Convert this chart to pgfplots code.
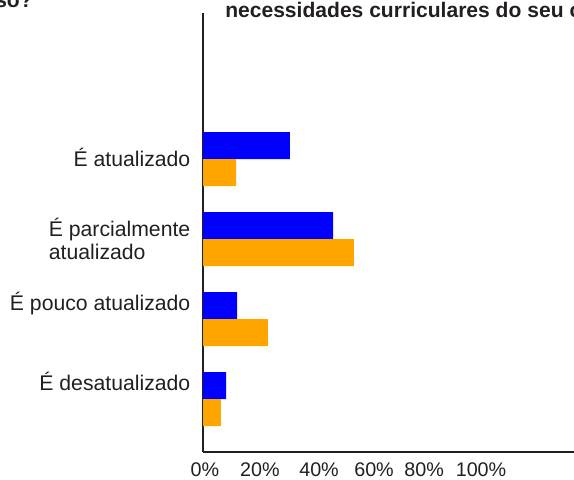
\documentclass[border=0pt]{standalone}
\usepackage{pgfplots}
\pgfplotsset{compat=1.18}
\usepackage{fontspec}
\setmainfont{Liberation Sans}
\definecolor{barblue}{HTML}{0000FF}
\definecolor{barorange}{HTML}{FFA500}
\definecolor{ink}{HTML}{231F20}
\begin{document}
\begin{tikzpicture}
\useasboundingbox (0,0) rectangle (430.5pt,359.25pt);
\clip (0,0) rectangle (430.5pt,359.25pt);
\begin{axis}[
  at={(152.25pt,20.25pt)}, anchor=south west,
  scale only axis,
  width=309.375pt, height=329.25pt,
  xmin=0, xmax=150,
  ymin=-0.6625, ymax=4.825,
  axis x line*=bottom, axis y line*=left,
  axis line style={ink, line width=1.2pt, -},
  xtick={0.7,20.7,42.2,62.2,80.4,101.1},
  xticklabels={0\%,20\%,40\%,60\%,80\%,100\%},
  ytick={0.225,1.19,2,3.02},
  yticklabels={É desatualizado, É pouco atualizado, {É parcialmente\\atualizado}, É atualizado},
  major tick length=0pt,
  xticklabel style={font=\fontsize{14.8}{17.25}\selectfont, text=ink, yshift=-4.5pt},
  yticklabel style={font=\fontsize{15.9}{17.25}\selectfont, text=ink, align=left, xshift=-6pt},
  xbar, bar width=20.25pt,
]
\addplot[draw=none, fill=barblue, bar shift=10.125pt] coordinates {(8.4,0) (12.4,1) (47.3,2) (31.6,3)};
\addplot[draw=none, fill=barorange, bar shift=-10.125pt] coordinates {(6.5,0) (23.6,1) (54.9,2) (12.0,3)};
\end{axis}
\node[anchor=base west, font=\fontsize{15.8}{18}\selectfont\bfseries, text=ink, inner sep=0pt] at (168.75pt,346.1pt) {necessidades curriculares do seu curso?};
\node[anchor=base east, font=\fontsize{15.8}{18}\selectfont\bfseries, text=ink, inner sep=0pt] at (24.75pt,353.25pt) {do curso?};
\end{tikzpicture}
\end{document}
